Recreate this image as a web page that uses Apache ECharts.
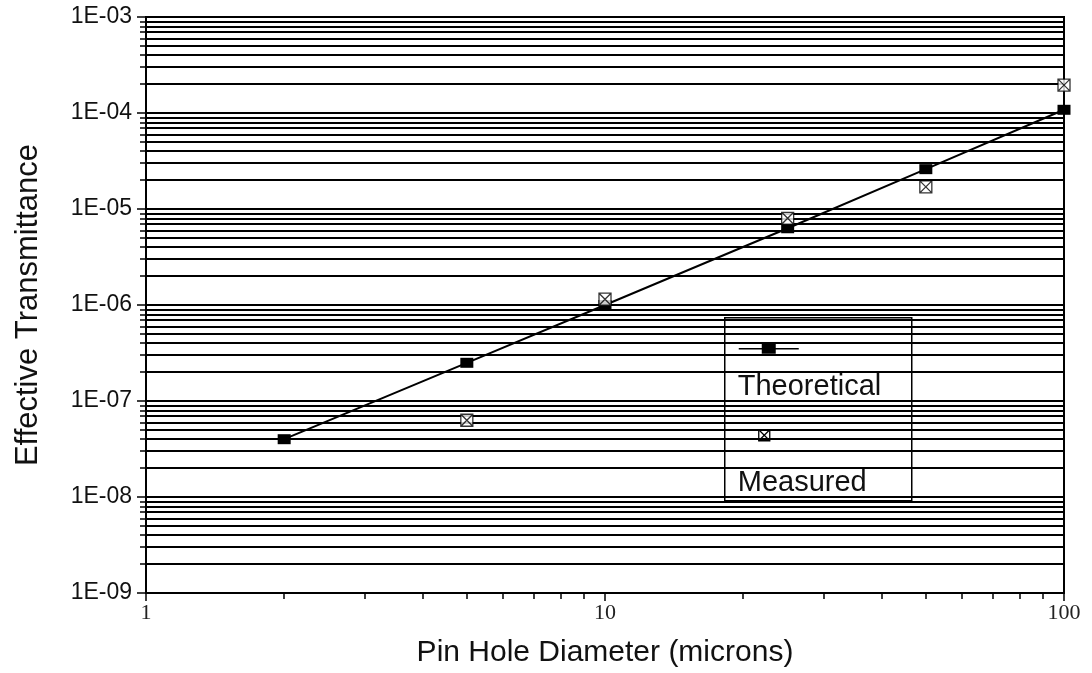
<!DOCTYPE html>
<html>
<head>
<meta charset="utf-8">
<script src="https://cdn.jsdelivr.net/npm/echarts@6/dist/echarts.min.js"></script>
<style>
  html, body { margin: 0; padding: 0; background: #fff; }
  #chart { width: 1092px; height: 673px; }
</style>
</head>
<body>
<div id="chart"></div>
<script>
// pin hole transmittance, log-log
var diameters = [2, 5, 10, 25, 50, 100];
var theoretical = [4.0e-8, 2.5e-7, 1.0e-6, 6.3e-6, 2.6e-5, 1.08e-4];
var measuredDiam = [5, 10, 25, 50, 100];
var measured = [6.3e-8, 1.15e-6, 8.0e-6, 1.7e-5, 1.95e-4];

var seriesNames = ['Theoretical', 'Measured'];
var xName = 'Pin Hole Diameter (microns)';
var yName = 'Effective Transmittance';

var crossBox = 'path://M1,1H11V11H1Z M1,1L11,11 M11,1L1,11';

var theoData = [];
for (var i = 0; i < diameters.length; i++) {
  theoData.push([diameters[i], theoretical[i]]);
}
var measData = [];
for (var j = 0; j < measuredDiam.length; j++) {
  measData.push([measuredDiam[j], measured[j]]);
}

var chart = echarts.init(document.getElementById('chart'));

var option = {
  backgroundColor: '#fff',
  animation: false,
  grid: {
    left: 146,
    right: 28,
    top: 17,
    bottom: 79,
    show: true,
    borderColor: '#000',
    borderWidth: 2
  },
  xAxis: {
    type: 'log',
    logBase: 10,
    min: 1,
    max: 100,
    name: xName,
    nameLocation: 'middle',
    nameGap: 45,
    nameTextStyle: { fontFamily: 'Liberation Sans', fontSize: 30, color: '#111' },
    axisLine: { lineStyle: { color: '#000', width: 2 } },
    axisTick: { show: true, length: 8, lineStyle: { color: '#000', width: 1.5 } },
    minorTick: { show: true, splitNumber: 9, length: 6, lineStyle: { color: '#000', width: 1.5 } },
    splitLine: { show: false },
    axisLabel: {
      margin: 9,
      fontFamily: 'Liberation Serif',
      fontSize: 22,
      color: '#222'
    }
  },
  yAxis: {
    type: 'log',
    logBase: 10,
    min: 1e-9,
    max: 1e-3,
    name: yName,
    nameLocation: 'middle',
    nameGap: 102,
    nameTextStyle: { fontFamily: 'Liberation Sans', fontSize: 31, color: '#111' },
    axisLine: { lineStyle: { color: '#000', width: 2 } },
    axisTick: { show: true, length: 9, lineStyle: { color: '#000', width: 1.5 } },
    minorTick: { show: true, splitNumber: 9, length: 6, lineStyle: { color: '#000', width: 1.5 } },
    splitLine: { show: true, lineStyle: { color: '#000', width: 2 } },
    minorSplitLine: { show: true, lineStyle: { color: '#000', width: 2 } },
    axisLabel: {
      margin: 14,
      fontFamily: 'Liberation Sans',
      fontSize: 23,
      color: '#111',
      formatter: function (v) {
        var e = Math.round(-Math.log10(v));
        return '1E-' + (e < 10 ? '0' : '') + e;
      }
    }
  },
  series: [
    {
      name: seriesNames[0],
      type: 'line',
      data: theoData,
      symbol: 'rect',
      symbolSize: [13, 10],
      showAllSymbol: true,
      lineStyle: { color: '#000', width: 2 },
      itemStyle: { color: '#000' },
      z: 3
    },
    {
      name: seriesNames[1],
      type: 'scatter',
      data: measData,
      symbol: crossBox,
      symbolSize: 12,
      itemStyle: { color: '#fff', borderColor: '#000', borderWidth: 1.3 },
      z: 4
    }
  ],
  graphic: [
    {
      type: 'group',
      left: 724,
      top: 317,
      children: [
        {
          type: 'rect',
          shape: { x: 0, y: 0, width: 187, height: 183 },
          style: { fill: '#fff', stroke: '#000', lineWidth: 1.5 }
        },
        {
          type: 'line',
          shape: { x1: 14, y1: 31, x2: 74, y2: 31 },
          style: { stroke: '#000', lineWidth: 1.5 }
        },
        {
          type: 'rect',
          shape: { x: 37, y: 26, width: 14, height: 10 },
          style: { fill: '#000' }
        },
        {
          type: 'text',
          x: 13,
          y: 69,
          style: {
            text: seriesNames[0],
            fontFamily: 'Liberation Sans',
            fontSize: 29,
            fill: '#111',
            verticalAlign: 'middle'
          }
        },
        // measured icon: box with diagonals
        {
          type: 'rect',
          shape: { x: 34, y: 112, width: 11, height: 11 },
          style: { fill: '#fff', stroke: '#000', lineWidth: 1.3 }
        },
        {
          type: 'line',
          shape: { x1: 34, y1: 112, x2: 45, y2: 123 },
          style: { stroke: '#000', lineWidth: 1.3 }
        },
        {
          type: 'line',
          shape: { x1: 45, y1: 112, x2: 34, y2: 123 },
          style: { stroke: '#000', lineWidth: 1.3 }
        },
        {
          type: 'text',
          x: 13,
          y: 165,
          style: {
            text: seriesNames[1],
            fontFamily: 'Liberation Sans',
            fontSize: 29,
            fill: '#111',
            verticalAlign: 'middle'
          }
        }
      ]
    }
  ]
};

chart.setOption(option);
</script>
</body>
</html>
